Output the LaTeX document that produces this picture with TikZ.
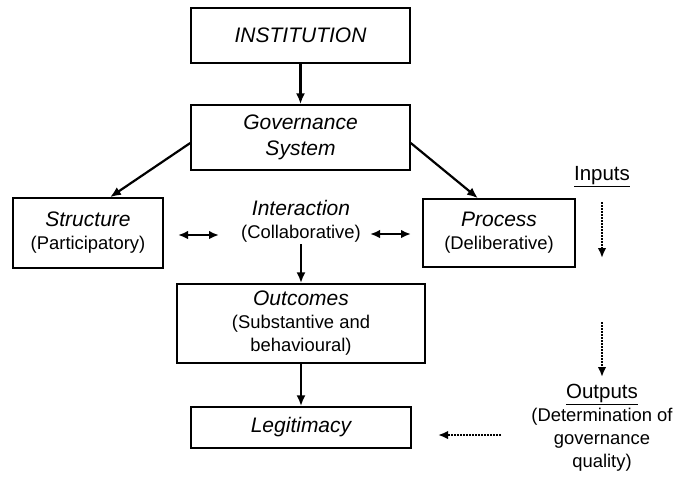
\documentclass[tikz,border=0pt]{standalone}
\usepackage{fontspec}
\setmainfont{Liberation Sans}
\usetikzlibrary{arrows.meta,calc}
\newcommand\subsize{\fontsize{18.4}{23}\selectfont}
\newcommand\ttlsize{\fontsize{21}{23}\selectfont\itshape}
\newcommand\headsize{\fontsize{20.5}{23}\selectfont}
\begin{document}
\begin{tikzpicture}[x=1pt,y=-1pt,
  box/.style={draw, line width=1.5pt, inner sep=0pt, align=center, font=\subsize},
  plain/.style={inner sep=0pt, align=center, font=\subsize},
  arr/.style={line width=2.2pt, -{Latex[length=11pt,width=9pt]}},
  dblarr/.style={line width=2.2pt, {Latex[length=10pt,width=8.5pt]}-{Latex[length=10pt,width=8.5pt]}},
  dotarr/.style={line width=2pt, dash pattern=on 1.6pt off 1.4pt, -{Latex[length=10pt,width=8.5pt]}}]
\useasboundingbox[fill=white] (0,0) rectangle (683,483);

% boxes
\node[box, minimum width=219, minimum height=55] (inst) at (300.5,35.5) {\ttlsize INSTITUTION};
\node[box, minimum width=219, minimum height=65, font=\fontsize{21}{26}\selectfont\itshape] (gov) at (300.5,137.5) {Governance\\System};
\node[box, minimum width=150, minimum height=70] (struct) at (88,233) {{\ttlsize Structure}\\(Participatory)};
\node[box, minimum width=152, minimum height=68] (proc) at (499,233) {{\ttlsize Process}\\(Deliberative)};
\node[plain, inner sep=2pt] (inter) at (301,221) {{\ttlsize Interaction}\\(Collaborative)};
\node[box, minimum width=248, minimum height=79] (outc) at (301,323.5) {{\ttlsize Outcomes}\\(Substantive and\\behavioural)};
\node[box, minimum width=220, minimum height=41] (legit) at (301,427.5) {\ttlsize Legitimacy};

% side labels
\node[plain] (inputs) at (602,177) {\headsize\underline{Inputs}};
\node[plain] (outputs) at (602,428) {{\headsize\underline{Outputs}}\\(Determination of\\governance\\quality)};

% free ends of the dotted and double arrows
\coordinate (inA) at (602,202);
\coordinate (inB) at (602,258);
\coordinate (outA) at (602,322);
\coordinate (outB) at (602,377);
\coordinate (legA) at (501,435);
\coordinate (legB) at (438,435);
\coordinate (sL) at (178,235);
\coordinate (sR) at (219,235);
\coordinate (pL) at (370,234);
\coordinate (pR) at (411,234);

% connectors
\draw[arr] (inst) -- (gov);
\draw[arr] ($(gov.west)+(0,5.5)$) -- ($(struct.north)+(22,0)$);
\draw[arr] ($(gov.east)+(0,5.5)$) -- ($(proc.north)+(-21,0)$);
\draw[dblarr] (sL) -- (sR);
\draw[dblarr] (pL) -- (pR);
\draw[arr] (inter.south) -- (outc.north);
\draw[arr] (outc) -- (legit);
\draw[dotarr] (inA) -- (inB);
\draw[dotarr] (outA) -- (outB);
\draw[dotarr] (legA) -- (legB);
\end{tikzpicture}
\end{document}
